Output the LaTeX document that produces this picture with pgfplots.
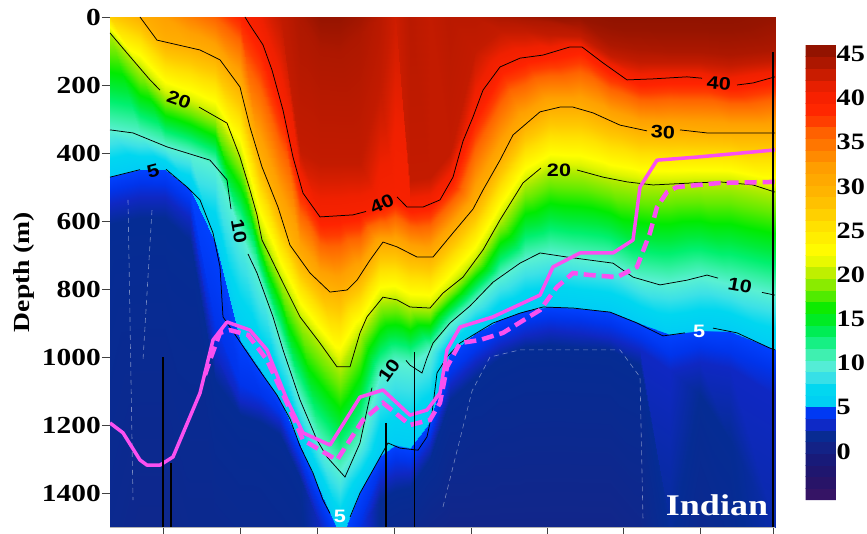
\documentclass[border=0pt]{standalone}
\usepackage{fontspec}
\setmainfont{Liberation Serif}[FakeStretch=1.2]
\newfontfamily\lblfont{Liberation Sans}[FakeStretch=1.2]
\usepackage{pgfplots}
\pgfplotsset{compat=1.18}
\definecolor{pinkl}{RGB}{250,80,240}
\pgfplotsset{colormap={tvw}{rgb255(0)=(60,20,100) rgb255(25)=(35,20,105) rgb255(45)=(25,25,120) rgb255(55)=(20,30,130) rgb255(65)=(18,38,138) rgb255(75)=(5,44,148) rgb255(85)=(15,40,195) rgb255(95)=(0,52,235) rgb255(105)=(0,65,255) rgb255(106)=(0,205,245) rgb255(125)=(0,215,240) rgb255(140)=(60,225,230) rgb255(155)=(90,240,210) rgb255(170)=(50,240,160) rgb255(185)=(0,240,110) rgb255(198)=(0,235,60) rgb255(215)=(0,235,0) rgb255(235)=(100,235,0) rgb255(252)=(170,235,0) rgb255(265)=(220,245,0) rgb255(280)=(255,255,0) rgb255(310)=(255,225,0) rgb255(330)=(255,200,0) rgb255(355)=(255,175,0) rgb255(375)=(255,160,0) rgb255(395)=(255,130,0) rgb255(415)=(255,100,0) rgb255(430)=(255,60,0) rgb255(445)=(255,35,0) rgb255(465)=(240,32,0) rgb255(475)=(215,30,0) rgb255(490)=(185,25,0) rgb255(505)=(150,20,0) rgb255(515)=(140,18,0)}}
\pgfplotsset{cl/.style={black,line width=0.75pt}}
\tikzset{lb/.style={font=\lblfont\fontsize{18}{18}\selectfont\bfseries, inner sep=0pt}}
\begin{document}
\begin{tikzpicture}
\path[use as bounding box] (-110pt,-6pt) rectangle (757pt,527pt);
\begin{axis}[at={(0pt,0pt)}, anchor=south west, scale only axis, width=665pt, height=510pt,
  xmin=110, xmax=775, ymin=-1500, ymax=0, view={0}{90}, hide axis,
  colormap name=tvw, point meta min=-5.5, point meta max=46,
  colorbar sampled, colorbar style={at={(parent axis.south west)}, anchor=south west, xshift=687pt, yshift=27pt,
    samples=40,
    scale only axis, width=31pt, height=455pt, ytick={0,5,...,45}, major tick length=0pt,
    axis line style={draw=none}, /pgf/number format/assume math mode=true,
    yticklabel style={font=\fontsize{23.5}{23.5}\selectfont\bfseries, inner sep=1pt, xshift=-1pt}}]
\addplot3[surf, shader=interp, point meta=explicit] table[x=x, y expr=-\thisrow{d}, z=v, meta=v] {
x d v
110 0 27
110 0 27
110 0 27
110 0 27
110 0 27
110 47 20
110 332 10
110 471 5
110 510 4
110 550 3
110 610 2
110 1500 1.5

140 0 30
140 0 30
140 0 30
140 0 30
140 0 30
140 151 20
140 349 10
140 449 5
140 488 4
140 530 3
140 590 2
140 1500 1.3

165 0 32
165 0 32
165 0 32
165 0 32
165 73 30
165 229 20
165 380 10
165 450 5
165 490 4
165 530 3
165 590 2
165 1500 1.3

190 0 34
190 0 34
190 0 34
190 0 34
190 90 30
190 256 20
190 403 10
190 509 5
190 550 4
190 590 3
190 660 2
190 1500 1.5

215 0 36
215 0 36
215 0 36
215 0 36
215 119 30
215 292 20
215 438 10
215 664 5
215 900 4
215 990 3
215 1070 2
215 1500 1.5

240 0 39
240 0 39
240 0 39
240 0 39
240 206 30
240 412 20
240 630 10
240 955 5
240 1080 4
240 1130 3
240 1170 2
240 1500 1.6

260 0 41
260 0 41
260 0 41
260 68 40
260 421 30
260 626 20
260 777 10
260 1041 5
260 1110 4
260 1150 3
260 1190 2
260 1500 1.6

280 0 43
280 0 43
280 0 43
280 242 40
280 578 30
280 764 20
280 950 10
280 1130 5
280 1165 4
280 1195 3
280 1230 2
280 1500 1.7

300 0 44
300 0 44
300 391 43
300 486 40
300 712 30
300 882 20
300 1126 10
300 1262 5
300 1295 4
300 1325 3
300 1360 2
300 1500 1.8

320 0 45
320 97 44
320 429 43
320 588 40
320 785 30
320 959 20
320 1259 10
320 1397 5
320 1440 4
320 1490 3
320 1500 2.9
320 1500 2.9

340 0 45
340 106 44
340 429 43
340 585 40
340 806 30
340 1029 20
340 1336 10
340 1500 5.6
340 1500 5.6
340 1500 5.6
340 1500 5.6
340 1500 5.6

360 0 44.5
360 53 44
360 429 43
360 576 40
360 760 30
360 929 20
360 1253 10
360 1400 5
360 1480 4
360 1500 3.8
360 1500 3.8
360 1500 3.8

380 0 43.5
380 0 43.5
380 215 43
380 553 40
380 674 30
380 835 20
380 1053 10
380 1295 5
380 1330 4
380 1370 3
380 1420 2
380 1500 1.9

395 0 42.5
395 0 42.5
395 0 42.5
395 529 40
395 674 30
395 830 20
395 1015 10
395 1262 5
395 1300 4
395 1345 3
395 1395 2
395 1500 1.6

410 0 43.5
410 0 43.5
410 479 43
410 559 40
410 696 30
410 853 20
410 1024 10
410 1272 5
410 1305 4
410 1340 3
410 1385 2
410 1500 1.5

430 0 43
430 0 43
430 470 43
430 550 40
430 706 30
430 856 20
430 981 10
430 1193 5
430 1225 4
430 1260 3
430 1300 2
430 1500 1.2

450 0 43.5
450 0 43.5
450 400 43
450 486 40
450 642 30
450 796 20
450 903 10
450 991 5
450 1044 4
450 1082 3
450 1126 2
450 1500 1.0

475 0 43.5
475 0 43.5
475 100 43
475 278 40
475 554 30
475 717 20
475 835 10
475 932 5
475 979 4
475 1015 3
475 1062 2
475 1500 1.0

500 0 44
500 0 44
500 40 43
500 147 40
500 421 30
500 597 20
500 765 10
500 892 5
500 929 4
500 965 3
500 1003 2
500 1500 1.0

525 0 44.5
525 10 44
525 40 43
525 119 40
525 317 30
525 488 20
525 716 10
525 866 5
525 897 4
525 935 3
525 971 2
525 1500 1.0

550 0 45
550 15 44
550 53 43
550 106 40
550 272 30
550 446 20
550 698 10
550 854 5
550 885 4
550 921 3
550 965 2
550 1500 1.0

580 0 45
580 30 44
580 55 43
580 88 40
580 271 30
580 452 20
580 711 10
580 858 5
580 891 4
580 929 3
580 974 2
580 1500 1.0

610 0 45.5
610 82 44
610 112 43
610 150 40
610 305 30
610 475 20
610 723 10
610 868 5
610 906 4
610 944 3
610 979 2
610 1500 1.0

640 0 45.5
640 97 44
640 132 43
640 184 40
640 332 30
640 490 20
640 771 10
640 904 5
640 944 4
640 979 3
640 1024 2
640 1500 1.2

670 0 45.5
670 103 44
670 132 43
670 179 40
670 335 30
670 491 20
670 783 10
670 935 5
670 994 4
670 1038 3
670 1500 2.1
670 1500 2.1

700 0 45.5
700 103 44
700 132 43
700 180 40
700 338 30
700 488 20
700 764 10
700 924 5
700 971 4
700 1015 3
700 1112 2
700 1500 1.5

730 0 45.5
730 112 44
730 141 43
730 197 40
730 341 30
730 488 20
730 785 10
730 925 5
730 985 4
730 1032 3
730 1244 2
730 1500 1.8

775 0 45
775 97 44
775 126 43
775 176 40
775 341 30
775 515 20
775 818 10
775 979 5
775 1038 4
775 1112 3
775 1500 2.5
775 1500 2.5
};
\end{axis}
\begin{axis}[at={(0pt,0pt)}, anchor=south west, scale only axis, width=665pt, height=510pt,
  xmin=110, xmax=775, ymin=-1500, ymax=0,
  axis line style={draw=none}, tick align=outside, xtick pos=bottom, ytick pos=left,
  xtick={163,240,317,394,471,547,623,700,773}, xticklabels={},
  ytick={-1400,-1200,-1000,-800,-600,-400,-200,0},
  yticklabels={1400,1200,1000,800,600,400,200,0},
  major tick length=8pt, tick style={line width=0.8pt, gray!50!black},
  yticklabel style={font=\fontsize{24.5}{24.5}\selectfont\bfseries, inner sep=1pt},
  ylabel={Depth (m)},
  ylabel style={font=\fontsize{23}{23}\selectfont\bfseries, at={(axis description cs:-0.129,0.5)}, anchor=center},
  after end axis/.code={\draw[gray!60, line width=0.8pt] (rel axis cs:0,0) -- (rel axis cs:1,0);}]
% white dashed thin contours
\addplot[white, opacity=0.45, line width=0.6pt, dash pattern=on 5pt off 4pt] coordinates {(128,-538) (133,-1421)};
\addplot[white, opacity=0.45, line width=0.6pt, dash pattern=on 5pt off 4pt] coordinates {(152,-568) (143,-1009)};
\addplot[white, opacity=0.45, line width=0.6pt, dash pattern=on 5pt off 4pt] coordinates {(443,-1441) (472,-1100) (490,-1000) (520,-979) (620,-979) (640,-1059) (643,-1479)};
% 40
\addplot[cl] coordinates {(245,0) (250,-24) (263,-82) (272,-156) (283,-274) (293,-412) (303,-518) (320,-588) (353,-582) (366,-572)};
\addplot[cl] coordinates {(397,-529) (407,-559) (423,-559) (440,-538) (453,-471) (463,-365) (473,-294) (483,-215) (500,-147) (520,-121) (543,-112) (570,-88) (582,-88) (603,-135) (627,-185) (653,-182) (687,-176) (702,-180)};
\addplot[cl] coordinates {(737,-200) (753,-194) (775,-176)};
% 30
\addplot[cl] coordinates {(140,0) (157,-68) (200,-97) (220,-126) (240,-206) (250,-324) (262,-441) (278,-559) (290,-671) (310,-753) (330,-809) (347,-803) (357,-774) (370,-715) (383,-662) (397,-676) (417,-706) (433,-706) (453,-635) (473,-565) (483,-509) (500,-421) (513,-347) (540,-279) (560,-265) (573,-265) (593,-282) (620,-318) (647,-335)};
\addplot[cl] coordinates {(680,-332) (707,-341) (775,-341)};
% 20
\addplot[cl] coordinates {(110,-47) (127,-106) (150,-185) (160,-215)};
\addplot[cl] coordinates {(199,-265) (227,-312) (240,-412) (250,-509) (257,-582) (262,-656) (267,-685) (283,-782) (300,-882) (320,-959) (337,-1029) (350,-1029) (360,-929) (367,-882) (383,-824) (397,-832) (410,-853) (430,-856) (443,-812) (463,-765) (483,-685) (500,-597) (523,-488) (541,-444)};
\addplot[cl] coordinates {(577,-450) (603,-471) (627,-485) (653,-494) (693,-488) (720,-485) (753,-494) (775,-515)};
% 10
\addplot[cl] coordinates {(110,-332) (133,-341) (167,-382) (210,-421) (227,-479) (231,-565)};
\addplot[cl] coordinates {(248,-697) (257,-753) (273,-882) (283,-979) (300,-1126) (317,-1244) (327,-1294) (345,-1353) (360,-1253) (367,-1156) (372,-1090)};
\addplot[cl] coordinates {(406,-1010) (410,-1024) (422,-1047) (427,-1003) (433,-959) (450,-900) (470,-850) (493,-780) (520,-724) (540,-694) (567,-706) (590,-715) (613,-724) (633,-765) (660,-788) (687,-774) (707,-759) (718,-768)};
\addplot[cl] coordinates {(762,-810) (775,-818)};
% 5
\addplot[cl] coordinates {(110,-471) (140,-449)};
\addplot[cl] coordinates {(166,-448) (187,-500) (200,-538) (213,-635) (220,-735) (223,-882) (257,-1029) (277,-1112) (290,-1182) (300,-1262) (313,-1341) (323,-1421) (330,-1460)};
\addplot[cl] coordinates {(350,-1471) (360,-1400) (373,-1332) (388,-1253) (400,-1268) (418,-1274) (427,-1235) (432,-1165) (437,-1047) (447,-1000) (460,-959) (470,-941) (493,-900) (520,-871) (543,-853) (573,-856) (610,-868) (637,-900) (663,-938) (685,-929)};
\addplot[cl] coordinates {(713,-915) (737,-929) (770,-974) (775,-979)};
% pink lines
\addplot[pinkl, line width=3.5pt, line join=round] coordinates {(110,-1194) (123,-1223) (140,-1303) (147,-1318) (160,-1318) (173,-1294) (200,-1106) (213,-950) (227,-897) (250,-921) (267,-979) (287,-1126) (303,-1223) (330,-1259) (360,-1118) (383,-1097) (410,-1171) (427,-1156) (440,-1106) (447,-979) (460,-912) (493,-882) (540,-818) (553,-735) (580,-694) (613,-694) (633,-656) (640,-500) (657,-421) (697,-412) (775,-391)};
\addplot[pinkl, line width=4.5pt, dash pattern=on 12pt off 6pt] coordinates {(205,-1053) (210,-1009) (220,-929) (230,-921) (248,-935) (267,-1009) (287,-1135) (303,-1244) (337,-1303) (363,-1185) (383,-1135) (410,-1200) (430,-1185) (440,-1135) (447,-1029) (460,-959) (480,-950) (503,-929) (540,-862) (557,-794) (573,-753) (590,-759) (617,-765) (637,-735) (650,-635) (657,-559) (667,-515) (677,-500) (720,-488) (775,-485)};
% black vertical lines
\addplot[black, line width=1.6pt] coordinates {(163,-1000) (163,-1500)};
\addplot[black, line width=1.2pt] coordinates {(171,-1312) (171,-1500)};
\addplot[black, line width=1.2pt] coordinates {(386,-1194) (386,-1500)};
\addplot[black, line width=0.9pt] coordinates {(414,-985) (414,-1500)};
\addplot[black, line width=2.5pt] coordinates {(773,-103) (773,-1500)};
% contour labels
\node[lb, rotate=-20] at (axis cs:179,-244) {20};
\node[lb, rotate=-80] at (axis cs:239,-630) {10};
\node[lb, rotate=15] at (axis cs:153,-452) {5};
\node[lb, rotate=25] at (axis cs:382,-550) {40};
\node[lb, rotate=55] at (axis cs:389,-1040) {10};
\node[lb, text=white] at (axis cs:340,-1468) {5};
\node[lb] at (axis cs:559,-450) {20};
\node[lb, rotate=-3] at (axis cs:663,-338) {30};
\node[lb, rotate=-5] at (axis cs:719,-194) {40};
\node[lb, rotate=-10] at (axis cs:740,-789) {10};
\node[lb, text=white] at (axis cs:699,-924) {5};
\node[font=\fontsize{30}{30}\selectfont\bfseries, text=white, inner sep=0pt] at (axis cs:717,-1435) {Indian};
\end{axis}
\end{tikzpicture}
\end{document}
